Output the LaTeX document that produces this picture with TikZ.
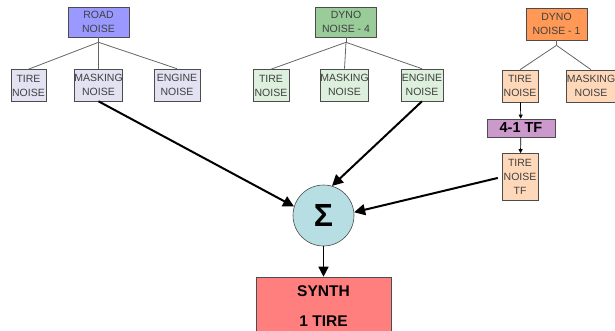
\documentclass[tikz,border=0pt]{standalone}
\usepackage{fontspec}
\setmainfont{Liberation Sans}
\usetikzlibrary{arrows.meta, positioning}
\definecolor{roadblue}{HTML}{9999FF}
\definecolor{roadpale}{HTML}{E2E2F2}
\definecolor{dynogreen}{HTML}{99CC99}
\definecolor{dynopale}{HTML}{DDEFDD}
\definecolor{dynoorange}{HTML}{FF9955}
\definecolor{dynopeach}{HTML}{FFD8BA}
\definecolor{tfpurple}{HTML}{CC99CC}
\definecolor{sumcyan}{HTML}{B7DEE2}
\definecolor{synthred}{HTML}{FF7F7F}

\begin{document}
\begin{tikzpicture}[x=1pt,y=-1pt,
  box/.style={draw=black!70, line width=0.6pt, inner sep=0pt, align=center,
    text=black!75, font=\fontsize{10.5}{14}\selectfont},
  head/.style={box, minimum width=61pt, minimum height=30pt},
  leaf/.style={box, minimum height=32pt},
  tree/.style={draw=black!60, line width=0.8pt},
  feed/.style={-{Triangle[length=11pt,width=11pt]}, line width=2pt},
  link/.style={-{Triangle[length=4pt,width=4pt]}, line width=0.7pt}]
  \useasboundingbox (0,0) rectangle (615,330);

  % road noise column
  \node[head, fill=roadblue] (road) at (98.5,22) {ROAD\\NOISE};
  \node[leaf, fill=roadpale, minimum width=35pt] (rtire) at (28.5,85.5) {TIRE\\NOISE};
  \node[leaf, fill=roadpale, minimum width=47pt] (rmask) at (98.5,85) {MASKING\\NOISE};
  \node[leaf, fill=roadpale, minimum width=46pt] (reng) at (177,85) {ENGINE\\NOISE};

  % dyno noise - 4 column
  \node[head, fill=dynogreen] (dfour) at (346,22) {DYNO\\NOISE - 4};
  \node[leaf, fill=dynopale, minimum width=36pt] (dtire) at (271,85.5) {TIRE\\NOISE};
  \node[leaf, fill=dynopale, minimum width=47pt] (dmask) at (344.5,85) {MASKING\\NOISE};
  \node[leaf, fill=dynopale, minimum width=42pt] (deng) at (422,85) {ENGINE\\NOISE};

  % dyno noise - 1 column
  \node[head, fill=dynoorange, minimum height=32pt] (done) at (556.5,24) {DYNO\\NOISE - 1};
  \node[leaf, fill=dynopeach, minimum width=36pt] (otire) at (520,86) {TIRE\\NOISE};
  \node[leaf, fill=dynopeach, minimum width=46pt] (omask) at (591,86) {MASKING\\NOISE};
  \node[box, fill=tfpurple, minimum width=68pt, minimum height=18pt, text=black,
    font=\fontsize{14.5}{16}\selectfont\bfseries] (tf) at (521,128) {4-1 TF};
  \node[box, fill=dynopeach, minimum width=36pt, minimum height=47pt] (ttf) at (520,177) {TIRE\\NOISE\\TF};

  % summing point and output
  \node[circle, draw=black!70, line width=0.6pt, fill=sumcyan, minimum size=61pt, inner sep=0pt,
    font=\fontsize{32}{34}\selectfont\bfseries] (sigma) at (323.5,215.5) {Σ};
  \node[box, fill=synthred, minimum width=135pt, minimum height=58pt, text=black,
    font=\fontsize{15.5}{30}\selectfont\bfseries] (synth) at (323.5,306) {SYNTH\\1 TIRE};

  % tree lines
  \foreach \p/\kids in {road/{rtire,rmask,reng}, dfour/{dtire,dmask,deng}, done/{otire,omask}} {
    \draw[tree] (\p.south) -- ++(0,5) coordinate (\p j);
    \foreach \k in \kids
      \draw[tree] (\p j) -- (\k.north);
  }

  % signal flow
  \draw[link] (otire) -- (tf);
  \draw[link] (tf) -- (ttf);
  \draw[feed] (rmask.south) -- (sigma.163);
  \draw[feed] (deng.south) -- (sigma.74);
  \draw[feed, shorten <=4pt] (ttf.west) -- (sigma.6);
  \draw[-{Triangle[length=10pt,width=10pt]}, line width=1.5pt] (sigma) -- (synth);
\end{tikzpicture}
\end{document}
